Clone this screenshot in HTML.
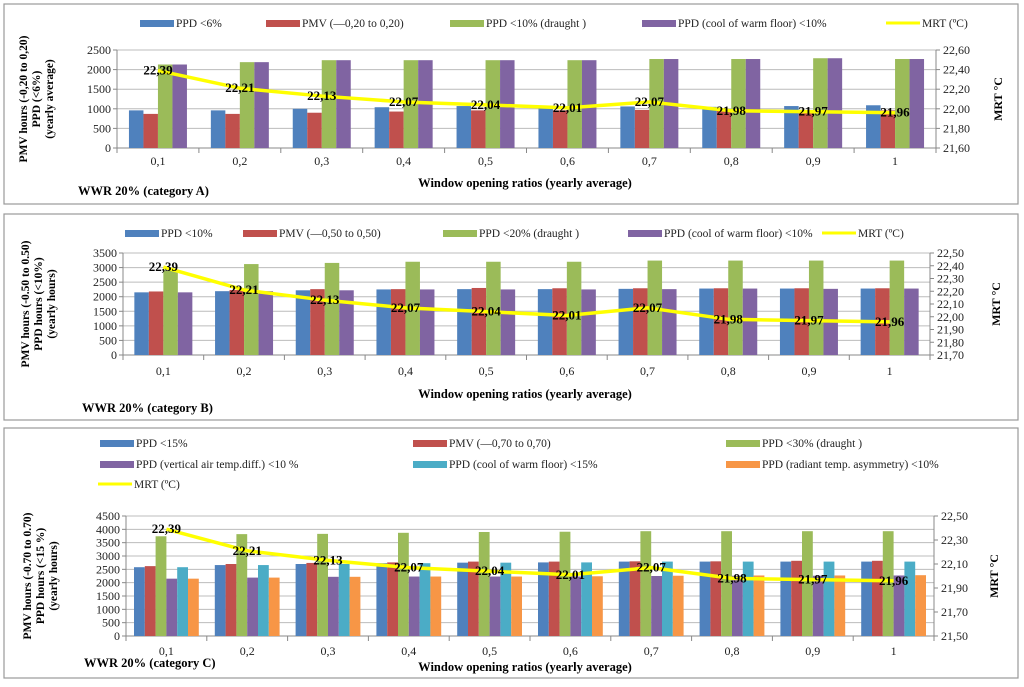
<!DOCTYPE html>
<html><head><meta charset="utf-8"><style>
body{margin:0;background:#fff;width:1024px;height:682px;overflow:hidden}
svg text{font-family:"Liberation Serif",serif;fill:#222}
</style></head><body>
<svg id="c" width="1024" height="682" xmlns="http://www.w3.org/2000/svg"></svg>
<script>
const categories=["0,1","0,2","0,3","0,4","0,5","0,6","0,7","0,8","0,9","1"];
const mrtValues=[22.39,22.21,22.13,22.07,22.04,22.01,22.07,21.98,21.97,21.96];
const a_ppd=[960,960,1000,1040,1070,1050,1060,1050,1070,1090];
const a_pmv=[870,870,900,930,960,960,970,960,960,960];
const a_draught=[2130,2190,2240,2240,2240,2240,2270,2270,2290,2270];
const a_floor=[2130,2190,2240,2240,2240,2240,2270,2270,2290,2270];
const b_ppd=[2150,2190,2220,2250,2260,2260,2270,2280,2280,2280];
const b_pmv=[2180,2230,2260,2260,2300,2290,2290,2290,2290,2290];
const b_draught=[2900,3120,3160,3200,3200,3200,3240,3240,3240,3240];
const b_floor=[2150,2190,2220,2250,2250,2250,2260,2280,2270,2280];
const c_ppd=[2580,2660,2700,2730,2750,2760,2790,2790,2790,2790];
const c_pmv=[2620,2700,2740,2760,2790,2790,2800,2800,2820,2820];
const c_draught=[3740,3820,3830,3870,3900,3910,3930,3930,3930,3930];
const c_vert=[2150,2190,2220,2230,2230,2230,2250,2260,2260,2270];
const c_floor=[2580,2660,2700,2730,2750,2760,2790,2790,2790,2790];
const c_rad=[2150,2190,2220,2230,2230,2240,2260,2270,2270,2280];
const a_leftTicks=[0,500,1000,1500,2000,2500];
const a_rightTicks=["21,60","21,80","22,00","22,20","22,40","22,60"];
const b_leftTicks=[0,500,1000,1500,2000,2500,3000,3500];
const b_rightTicks=["21,70","21,80","21,90","22,00","22,10","22,20","22,30","22,40","22,50"];
const c_leftTicks=[0,500,1000,1500,2000,2500,3000,3500,4000,4500];
const c_rightTicks=["21,50","21,70","21,90","22,10","22,30","22,50"];

const NS="http://www.w3.org/2000/svg";
const svg=document.getElementById('c');
function mk(tag,attrs,parent,txt){const e=document.createElementNS(NS,tag);for(const k in attrs)e.setAttribute(k,attrs[k]);if(txt!==undefined)e.textContent=txt;(parent||svg).appendChild(e);return e;}
const COL={blue:"#4f81bd",red:"#c0504d",green:"#9bbb59",purple:"#8064a2",cyan:"#4bacc6",orange:"#f79646"};

function panel(p){
  const g=mk('g',{});
  
  
  const fr=mk('rect',{x:p.box[0],y:p.box[1],width:p.box[2],height:p.box[3],fill:'#fff',stroke:'#999','stroke-width':1.2},g);
  
  
  const L=p.plot[0],T=p.plot[1],R=p.plot[2],B=p.plot[3];
  const yL=v=>B-(v-p.lmin)/(p.lmax-p.lmin)*(B-T);
  const yR=v=>B-(v-p.rmin)/(p.rmax-p.rmin)*(B-T);
  const cw=(R-L)/categories.length;
  const xC=i=>L+cw*(i+0.5);
  p.lticks.forEach(t=>{
    const y=yL(t);
    if(t>0){const gl=mk('line',{x1:L,x2:R,y1:y,y2:y,stroke:'#bcbcbc','stroke-width':1},g);
    }
    mk('line',{x1:L-4,x2:L,y1:y,y2:y,stroke:'#888'},g);
    const tx=mk('text',{x:L-6,y:y+4,'text-anchor':'end','font-size':12},g,String(t));
    
  });
  p.rticks.forEach((t,i)=>{
    const v=parseFloat(t.replace(',','.'));const y=yR(v);
    mk('line',{x1:R,x2:R+4,y1:y,y2:y,stroke:'#888'},g);
    const tx=mk('text',{x:R+7,y:y+4,'font-size':12},g,t);
    
  });
  mk('line',{x1:L,x2:L,y1:T,y2:B,stroke:'#888'},g);
  mk('line',{x1:R,x2:R,y1:T,y2:B,stroke:'#888'},g);
  mk('line',{x1:L,x2:R,y1:B,y2:B,stroke:'#888'},g);
  categories.forEach((c,i)=>{
    mk('line',{x1:L+cw*i,x2:L+cw*i,y1:B,y2:B+5,stroke:'#888'},g);
    const tx=mk('text',{x:xC(i),y:B+p.catDy,'text-anchor':'middle','font-size':12},g,c);
    
  });
  mk('line',{x1:R,x2:R,y1:B,y2:B+5,stroke:'#888'},g);
  const n=p.series.length,bw=p.bw,gw=n*bw;
  p.series.forEach((s,si)=>{
    s.data.forEach((v,i)=>{
      const x=xC(i)-gw/2+si*bw,y=yL(v);
      const r=mk('rect',{x:x,y:y,width:bw,height:B-y,fill:s.col},g);
      
      
    });
  });
  const pts=mrtValues.map((v,i)=>xC(i)+','+yR(v)).join(' ');
  const pl=mk('polyline',{points:pts,fill:'none',stroke:'#ffff00','stroke-width':3.5,'stroke-linejoin':'round'},g);
  
  mrtValues.forEach((v,i)=>{
    const tx=mk('text',{x:xC(i),y:yR(v)+4,'text-anchor':'middle','font-size':13,'font-weight':'bold',style:'fill:#000'},g,v.toFixed(2).replace('.',','));
    
  });
  p.legend.forEach(l=>{
    const lg=mk('g',{},g);
    
    if(l.line) mk('line',{x1:l.x,x2:l.x+34,y1:l.y,y2:l.y,stroke:'#ffff00','stroke-width':3},lg);
    else mk('rect',{x:l.x,y:l.y-3,width:34,height:7,fill:l.col},lg);
    mk('text',{x:l.x+36,y:l.y+4,'font-size':11.5},lg,l.t);
  });
  const at=mk('text',{transform:`translate(${p.ytX},${(T+B)/2}) rotate(-90)`,'text-anchor':'middle','font-size':11.5,'font-weight':'bold',style:'fill:#000'},g);
  
  p.ytitle.forEach((s,i)=>mk('tspan',{x:0,dy:i?13:0},at,s));
  at.setAttribute('y',-(p.ytitle.length-1)*6.5);
  const rt=mk('text',{transform:`translate(${p.rtX},${(T+B)/2}) rotate(-90)`,'text-anchor':'middle','font-size':12,'font-weight':'bold',style:'fill:#000'},g,'MRT °C');
  
  const xt=mk('text',{x:525,y:p.xtY,'text-anchor':'middle','font-size':12.5,'font-weight':'bold',style:'fill:#000'},g,'Window  opening ratios (yearly average)');
  
  const wt=mk('text',{x:p.wwr[0],y:p.wwr[1],'font-size':12.5,'font-weight':'bold',style:'fill:#000'},g,p.wwrText);
  
}

panel({name:'chart-category-a',box:[4,4,1014,200],plot:[117,50,936,148],lmin:0,lmax:2500,rmin:21.6,rmax:22.6,
  lticks:a_leftTicks,rticks:a_rightTicks,bw:14.5,catDy:17,
  series:[{key:'ppd',col:COL.blue,data:a_ppd},{key:'pmv',col:COL.red,data:a_pmv},{key:'draught',col:COL.green,data:a_draught},{key:'floor',col:COL.purple,data:a_floor}],
  legend:[{x:140,y:23,col:COL.blue,t:'PPD <6%'},{x:266,y:23,col:COL.red,t:'PMV (—0,20 to 0,20)'},{x:450,y:23,col:COL.green,t:'PPD <10% (draught )'},{x:642,y:23,col:COL.purple,t:'PPD (cool of warm floor) <10%'},{x:886,y:23,line:true,t:'MRT (ºC)'}],
  ytX:40,ytitle:['PMV hours (-0,20 to 0,20)','PPD (<6%)','(yearly average)'],rtX:1002,xtY:187,wwr:[78,195],wwrText:'WWR 20% (category A)'});

panel({name:'chart-category-b',box:[4,214,1014,206],plot:[123,253,930,355],lmin:0,lmax:3500,rmin:21.7,rmax:22.5,
  lticks:b_leftTicks,rticks:b_rightTicks,bw:14.5,catDy:20,
  series:[{key:'ppd',col:COL.blue,data:b_ppd},{key:'pmv',col:COL.red,data:b_pmv},{key:'draught',col:COL.green,data:b_draught},{key:'floor',col:COL.purple,data:b_floor}],
  legend:[{x:125,y:233,col:COL.blue,t:'PPD <10%'},{x:243,y:233,col:COL.red,t:'PMV (—0,50 to 0,50)'},{x:443,y:233,col:COL.green,t:'PPD <20% (draught )'},{x:628,y:233,col:COL.purple,t:'PPD (cool of warm floor) <10%'},{x:822,y:233,line:true,t:'MRT (ºC)'}],
  ytX:42,ytitle:['PMV hours (-0.50 to 0.50)','PPD hours (<10%)','(yearly hours)'],rtX:1000,xtY:398,wwr:[82,412],wwrText:'WWR 20% (category B)'});

panel({name:'chart-category-c',box:[4,428,1014,250],plot:[126,516,934,636],lmin:0,lmax:4500,rmin:21.5,rmax:22.5,
  lticks:c_leftTicks,rticks:c_rightTicks,bw:10.8,catDy:19,
  series:[{key:'ppd',col:COL.blue,data:c_ppd},{key:'pmv',col:COL.red,data:c_pmv},{key:'draught',col:COL.green,data:c_draught},{key:'vertical',col:COL.purple,data:c_vert},{key:'floor',col:COL.cyan,data:c_floor},{key:'radiant',col:COL.orange,data:c_rad}],
  legend:[{x:100,y:443,col:COL.blue,t:'PPD <15%'},{x:413,y:443,col:COL.red,t:'PMV (—0,70 to 0,70)'},{x:726,y:443,col:COL.green,t:'PPD <30% (draught )'},
          {x:100,y:464,col:COL.purple,t:'PPD (vertical air temp.diff.) <10 %'},{x:413,y:464,col:COL.cyan,t:'PPD (cool of warm floor) <15%'},{x:726,y:464,col:COL.orange,t:'PPD (radiant temp. asymmetry) <10%'},
          {x:98,y:484,line:true,t:'MRT (ºC)'}],
  ytX:44,ytitle:['PMV hours (-0.70 to 0.70)','PPD hours (<15 %)','(yearly hours)'],rtX:998,xtY:671,wwr:[84,667],wwrText:'WWR 20% (category C)'});
</script>
</body></html>
